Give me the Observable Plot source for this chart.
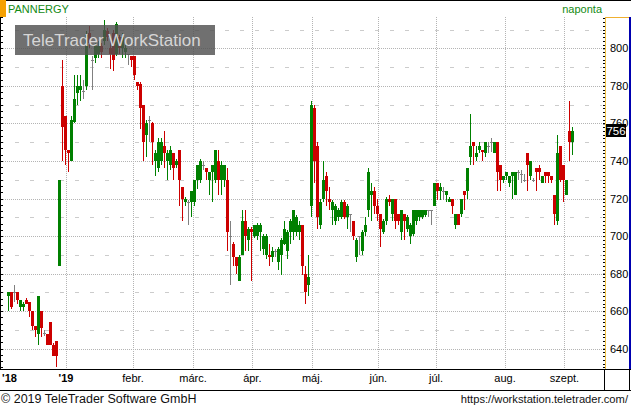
<!DOCTYPE html>
<html><head><meta charset="utf-8">
<script src="https://cdn.jsdelivr.net/npm/d3@7"></script>
<script src="https://cdn.jsdelivr.net/npm/@observablehq/plot@0.6"></script>
<style>body{margin:0;background:#fff;overflow:hidden}</style>
</head><body><div id="chart"></div>
<script>
// Daily OHLC (trading-day index 0..188), Dec 2018 – Sept 2019
const open = [
668,670,670,670,662,662,666,665,660,652,
648,660,648.5,648,654,642,644,684,780,764,
746,740,761,776,778,777,780,808,794,795,
797,801,804,809,800,808,797,806,800,798,
797,796,796,782,781,770,754,762,760,740,
736,740,748,740,738,744,738,746,726,718,
718,718,718,730,730,738,736,730,734,730,
740,730,730,730,700,696,689,676,690,708,
698,704,700,700,702,693,690,690,689,692,
686,690,696,692,702,702,702,702,706,680,
674,716,768,748,706,720,732,720,714,708,
710,710,718,710,712,708,689,700,692,702,
714,722,724,716,712,702,708,720,712,720,
712,702,712,704,700,701,708,710,710,711,
714,714,716,728,724,724,722,718,720,706,
712,712,724,724,742,750,742,746,746,744,
748,750,744,750,738,730,732,728,732,722,
734,733,730,744,732,730,736,736,728,734,
734,732,722,708,748,738,722,756,750];
const high = [
670,670,674,670,666,665,667,665,660,652,
668,660,650,648,654,643,644,730,794,764,
746,764,786,786,786,783,809,812,796,803,
804,803,815,811,806,810,814,807,808,802,
797,796,796,782,782,770,762,764,761,746,
752,752,756,746,748,744,741,746,726,721,
719,724,730,738,741,740,736,734,738,746,
746,740,738,736,708,697,689,690,714,714,
705,705,706,707,707,701,701,696,694,693,
694,699,708,703,709,714,711,708,706,684,
690,772,770,750,720,740,734,726,719,717,
715,719,719,717,712,708,699,700,703,710,
736,728,726,720,712,709,721,722,720,720,
712,714,712,711,707,714,714,714,714,714,
714,714,728,728,728,726,724,721,720,712,
712,720,724,736,765,750,748,750,746,750,
750,752,750,750,738,732,734,732,734,734,
735,735,733,744,740,731,736,738,732,734,
734,732,722,754,748,738,730,772,758];
const low = [
660,661,665,664,660,660,664,657,650,646,
642,646,647,642,642,636,630,684,740,738,
734,740,760,770,772,773,778,800,778,792,
795,795,802,804,789,788,796,797,795,795,
791,790,783,778,757,740,742,750,738,732,
734,738,736,730,735,730,736,716,708,716,
706,710,716,725,728,735,730,722,718,728,
722,722,726,692,674,684,680,676,690,692,
692,676,699,698,692,690,688,684,686,689,
682,679,695,688,696,698,700,698,679,664,
668,710,728,704,704,718,716,714,706,706,
708,709,709,704,702,698,686,690,690,700,
710,708,712,708,694,701,706,716,708,704,
706,698,698,702,696,700,706,708,709,710,
710,706,716,719,719,719,718,718,712,704,
706,710,714,720,738,738,740,744,740,742,
744,745,744,724,724,728,730,726,720,722,
730,728,729,724,730,729,724,730,728,728,
728,728,706,706,729,718,722,740,743];
const close = [
670,662,670,666,666,664,664,660,652,650,
668,651,648.5,642,642,636,636,730,758,746,
744,762,773,780,780,777,807,803,794,801,
801,798,810,806,797,794,813,800,806,800,
797,794,786,780,768,750,760,762,750,744,
750,750,744,744,746,736,740,730,720,720,
718,724,730,738,740,738,734,734,738,746,
730,738,738,702,700,689,684,689,708,700,
704,702,706,706,706,700,700,689,692,692,
693,698,704,702,708,714,710,706,684,670,
678,770,740,710,718,730,724,718,718,716,
714,718,710,716,712,700,698,700,702,706,
734,724,716,712,704,708,720,718,720,708,
708,714,708,710,706,714,714,714,714,714,
714,714,728,724,726,724,724,720,716,712,
706,720,722,736,748,748,744,748,745,750,
748,750,750,734,730,732,734,732,734,734,
734,733,730,738,740,730,734,734,732,732,
732,730,712,744,730,730,730,750,756];

// x-axis: month boundaries (in trading-day index units) and labels
const tickPos = [0.33, 19.17, 41.5, 61.5, 81.27, 101.27, 123.27, 142.5, 165.5, 185.33];
const tickLabels = ["'18", "'19", "febr.", "márc.", "ápr.", "máj.", "jún.", "júl.", "aug.", "szept."];
// y-axis price levels
const priceTicks = [640, 660, 680, 700, 720, 740, 760, 780, 800];
const halfTicks = [650, 670, 690, 710, 730, 750, 770, 790, 810];

const symbol = "PANNERGY";
const period = "naponta";
const watermark = "TeleTrader WorkStation";
const copyright = "© 2019 TeleTrader Software GmbH";
const url = "https://workstation.teletrader.com/";

const GREEN = "#008000", RED = "#cc0000", GRAY = "#808080";
const candles = open.map((o, i) => ({
  i, open: o, high: high[i], low: low[i], close: close[i],
  col: close[i] > o ? GREEN : close[i] < o ? RED : GRAY
}));
const bodies = candles.filter(d => d.col !== GRAY);
const dojis = candles.filter(d => d.col === GRAY);
const months = tickLabels.map((t, k) => ({x: tickPos[k], t, year: t.startsWith("'")}));

const W = 631, H = 408, mT = 17, mB = 38, mL = 3, mR = 29;
// pixel geometry of the reference (Plot adds a 0.5px offset): candle i centred at 8.5 + 3i; 800 at y=48.3
const xAt = px => (px - 8) / 3;
const yAt = py => 800 - (py - 48.3) / 1.8775;
const crisp = "crispEdges";

const chart = Plot.plot({
  width: W, height: H, marginTop: mT, marginBottom: mB, marginLeft: mL, marginRight: mR,
  x: {type: "linear", domain: [xAt(mL), xAt(W - mR)], axis: null},
  y: {type: "linear", domain: [yAt(H - mB), yAt(mT)], axis: null},
  style: {fontFamily: "'Liberation Sans', Arial, sans-serif", fontSize: "11px", color: "#000", background: "#fff", overflow: "visible"},
  marks: [
    Plot.ruleY(halfTicks, {stroke: "#cccccc", strokeDasharray: "4,11", strokeDashoffset: 3, shapeRendering: crisp}),
    Plot.ruleY(priceTicks, {stroke: "#b4b4b4", strokeDasharray: "1,1", shapeRendering: crisp}),
    Plot.ruleX(tickPos.slice(1), {stroke: "#b4b4b4", strokeDasharray: "1,1", shapeRendering: crisp}),
    Plot.ruleX(candles, {x: "i", y1: "low", y2: "high", stroke: "col", strokeWidth: 1, shapeRendering: crisp}),
    Plot.rect(bodies, {x1: d => d.i - 0.5, x2: d => d.i + 0.5, y1: "open", y2: "close", fill: "col", shapeRendering: crisp}),
    Plot.ruleY(dojis, {x1: d => d.i - 0.5, x2: d => d.i + 0.5, y: "open", stroke: GRAY, shapeRendering: crisp}),
    Plot.axisY({anchor: "left", ticks: d3.range(630, 817, 10 / 3), tickSize: 3, tickFormat: () => "", label: null, shapeRendering: crisp}),
    Plot.axisY({anchor: "right", ticks: d3.range(630, 817, 2), tickSize: 3, tickFormat: () => "", label: null, shapeRendering: crisp}),
    Plot.axisY({anchor: "right", ticks: priceTicks, tickSize: 3, tickPadding: 4.5, tickFormat: d => String(d), fontSize: 11, label: null}),
    Plot.text(months.filter(d => !d.year), {x: "x", text: "t", frameAnchor: "bottom", dy: 11.5, fontSize: 11, fill: "#000"}),
    Plot.text(months.filter(d => d.year), {x: "x", text: "t", frameAnchor: "bottom", dy: 11.5, fontSize: 11, fontWeight: "bold", fill: "#000"})
  ]
});
document.getElementById("chart").appendChild(chart);

// chrome: frame lines, header, watermark, price tag, footer
const svg = d3.select(chart);
const g = svg.append("g").attr("shape-rendering", "crispEdges");
const line = (x1, y1, x2, y2, c, w = 1) => g.append("line").attr("x1", x1).attr("y1", y1).attr("x2", x2).attr("y2", y2).attr("stroke", c).attr("stroke-width", w);
const txt = (x, y, s, o = {}) => {
  const t = g.append("text").attr("x", x).attr("y", y).text(s)
    .attr("font-family", "'Liberation Sans', Arial, sans-serif").attr("font-size", o.size || 11)
    .attr("fill", o.fill || "#000").attr("text-anchor", o.anchor || "start").attr("font-weight", o.weight || "normal");
  return t;
};

g.append("rect").attr("x", 0).attr("y", 0).attr("width", 6).attr("height", 17).attr("fill", "#f5a000");
line(6, 0.5, W, 0.5, "#000");
txt(8, 13, symbol, {fill: "#138a13", size: 11});
txt(602, 12.5, period, {fill: "#138a13", anchor: "end"});
line(0.5, mT, 0.5, H - mB, "#000");
// right price panel borders
line(605.5, mT, 605.5, H - mB, "#f0c040");
line(605, mT + 0.5, 629, mT + 0.5, "#f0b030");
line(629.5, mT, 629.5, H - mB, "#0000b0", 2);
// x-axis band
line(0, 369.5, W, 369.5, "#000");
line(0, 390.5, W, 390.5, "#000");
line(604.5, 370, 604.5, 391, "#000");
line(629.5, 370, 629.5, 391, "#000");

// watermark
g.append("rect").attr("x", 15).attr("y", 25).attr("width", 200).attr("height", 30).attr("fill", "#505050").attr("opacity", 0.82);
txt(23, 46, watermark, {fill: "#d6d6d6", size: 17});

// last price tag
const yScale = chart.scale("y");
const last = close[close.length - 1];
const yl = yScale.apply(last);
g.append("rect").attr("x", 606).attr("y", yl - 6.5).attr("width", 20).attr("height", 13).attr("fill", "#000");
txt(616, yl + 4, String(last), {fill: "#fff", anchor: "middle", size: 11.5});

// footer
txt(1, 403, copyright, {size: 12.5, fill: "#111"});
txt(628, 403, url, {size: 11.2, fill: "#111", anchor: "end"});
</script></body></html>
